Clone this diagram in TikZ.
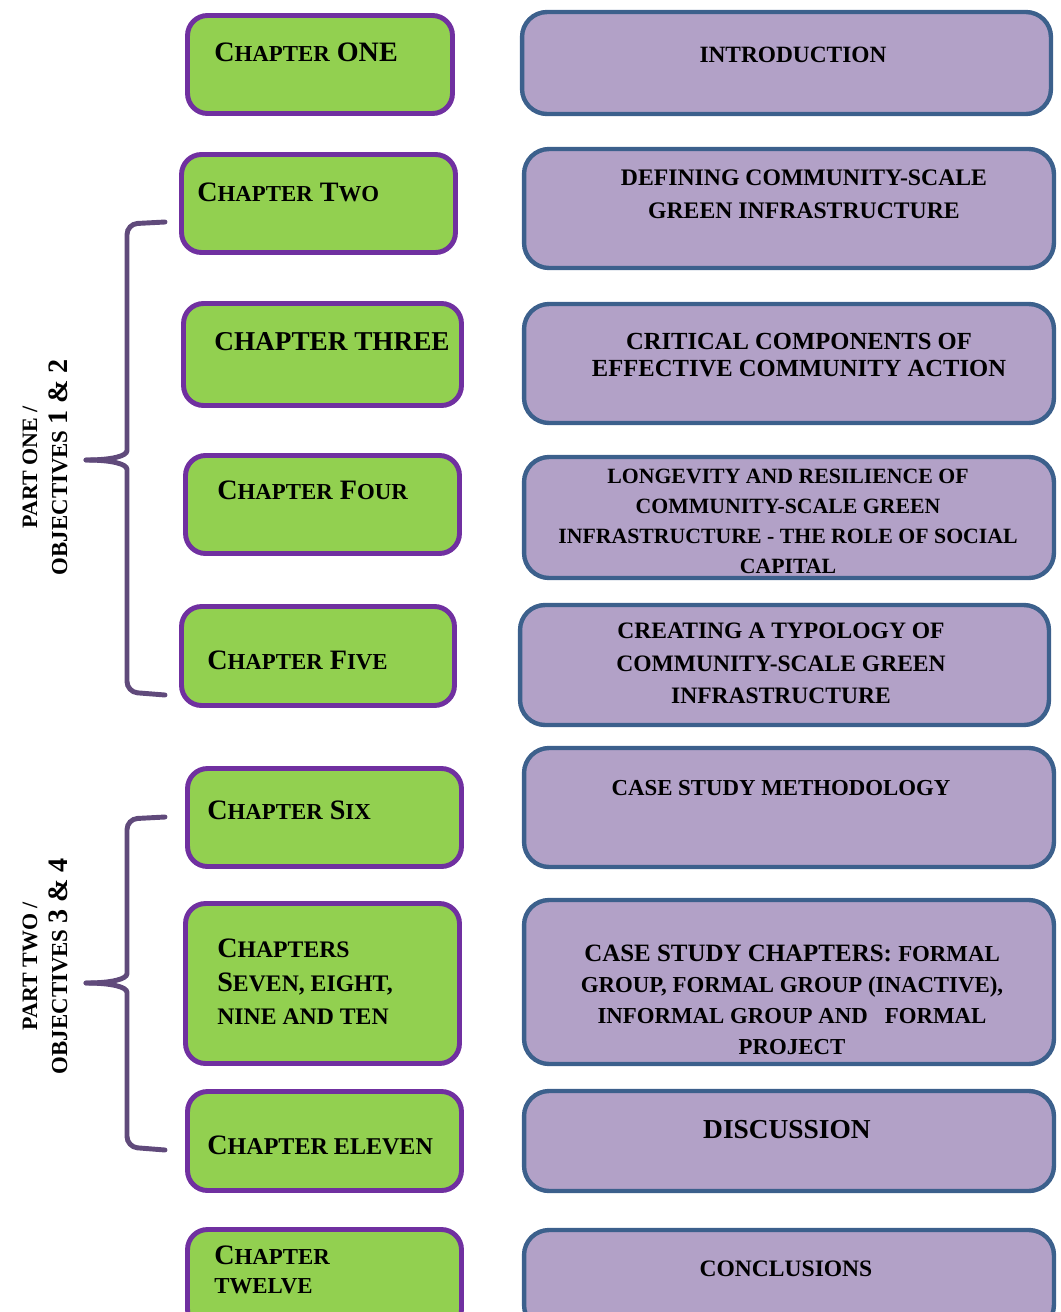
\documentclass[tikz,border=0pt]{standalone}
\usepackage{fontspec}
\setmainfont{Liberation Serif}
\usepackage{tikz}
\usepackage{xcolor}
\usetikzlibrary{positioning}
\newcommand{\smcaps}[2][13]{{\fontsize{#1}{15}\selectfont #2}}
\definecolor{chapgreen}{RGB}{146,208,80}
\definecolor{chapedge}{RGB}{112,48,160}
\definecolor{topicfill}{RGB}{178,161,199}
\definecolor{topicedge}{RGB}{60,96,140}
\definecolor{bracecol}{RGB}{96,74,123}

\begin{document}
\begin{tikzpicture}[
  x=0.02cm, y=-0.02cm,
  chapbox/.style={draw=chapedge, fill=chapgreen, line width=2.8pt, rounded corners=0.4cm, minimum width=5.48cm, minimum height=1.96cm},
  topicbox/.style={draw=topicedge, fill=topicfill, line width=2.5pt, rounded corners=0.5cm, minimum width=10.6cm, minimum height=2.38cm},
  chaplbl/.style={anchor=west, inner sep=0pt, align=left, font=\fontsize{16}{19}\selectfont\bfseries},
  topiclbl/.style 2 args={inner sep=0pt, align=center, font=\fontsize{#1}{#2}\selectfont\bfseries},
  partlbl/.style={rotate=90, inner sep=0pt, align=center, font=\fontsize{12.5}{17}\selectfont\bfseries},
  brace/.style={draw=bracecol, line width=2.8pt, line cap=round, rounded corners=6pt}
]
\useasboundingbox (0,0) rectangle (1061,1312);

% chapter column
\node[chapbox, minimum width=5.3cm] (ch1) at (320,64.5) {};
\node[chapbox] (ch2) at (318.5,203.5) {};
\node[chapbox, minimum width=5.56cm, minimum height=2.04cm] (ch3) at (322.5,354.5) {};
\node[chapbox] (ch4) at (322.5,504.5) {};
\node[chapbox, minimum width=5.46cm, minimum height=1.98cm] (ch5) at (318,656) {};
\node[chapbox] (ch6) at (324.5,817.5) {};
\node[chapbox, minimum height=3.2cm] (ch7) at (322.5,983.5) {};
\node[chapbox, minimum height=1.98cm] (ch11) at (324.5,1141) {};
\node[chapbox, minimum height=2cm] (ch12) at (324.5,1279.5) {};

\node[chaplbl] (ch1t) at (214,52) {C\smcaps{HAPTER} ONE};
\node[chaplbl] (ch2t) at (197,192) {C\smcaps{HAPTER} T\smcaps{WO}};
\node[chaplbl, font=\fontsize{15.5}{19}\selectfont\bfseries] (ch3t) at (214,342) {CHAPTER THREE};
\node[chaplbl] (ch4t) at (217,490) {C\smcaps{HAPTER} F\smcaps{OUR}};
\node[chaplbl] (ch5t) at (207,660) {C\smcaps{HAPTER} F\smcaps{IVE}};
\node[chaplbl] (ch6t) at (207,810) {C\smcaps{HAPTER} S\smcaps{IX}};
\node[chaplbl] (ch7t) at (217,982) {C\smcaps[13.5]{HAPTERS}\\S\smcaps[13.5]{EVEN, EIGHT,}\\\smcaps[13.5]{NINE AND TEN}};
\node[chaplbl] (ch11t) at (207,1145) {C\smcaps[13.7]{HAPTER ELEVEN}};
\node[chaplbl, font=\fontsize{16}{16.5}\selectfont\bfseries] (ch12t) at (214,1270) {C\smcaps{HAPTER}\\\smcaps{TWELVE}};

% topic column
\node[topicbox, minimum width=10.58cm, minimum height=2.04cm] (tp1) at (786.5,63) {};
\node[topicbox] (tp2) at (789,208.5) {};
\node[topicbox] (tp3) at (789,363.5) {};
\node[topicbox, minimum height=2.42cm] (tp4) at (789,517.5) {};
\node[topicbox, minimum width=10.58cm, minimum height=2.4cm] (tp5) at (784.5,665) {};
\node[topicbox] (tp6) at (789,807.5) {};
\node[topicbox, minimum height=3.28cm] (tp7) at (789,982) {};
\node[topicbox, minimum height=2cm] (tp8) at (789,1141) {};
\node[topicbox, minimum height=2cm] (tp9) at (789,1280) {};

\node[topiclbl={13.3}{16}] (tp1t) at (793,55) {INTRODUCTION};
\node[topiclbl={13.5}{18.8}] (tp2t) at (804,194.5) {DEFINING COMMUNITY-SCALE\\GREEN INFRASTRUCTURE};
\node[topiclbl={14}{15.4}] (tp3t) at (799,355.5) {CRITICAL COMPONENTS OF\\EFFECTIVE COMMUNITY ACTION};
\node[topiclbl={12.4}{17.1}] (tp4t) at (788,521.5) {LONGEVITY AND RESILIENCE OF\\COMMUNITY-SCALE GREEN\\INFRASTRUCTURE - THE ROLE OF SOCIAL\\CAPITAL};
\node[topiclbl={13.4}{18.5}] (tp5t) at (781,663.5) {CREATING A TYPOLOGY OF\\COMMUNITY-SCALE GREEN\\INFRASTRUCTURE};
\node[topiclbl={13}{16}] (tp6t) at (781,788) {CASE STUDY METHODOLOGY};
\node[topiclbl={14.2}{17.6}] (tp7t) at (792,999.5) {CASE STUDY CHAPTERS: \smcaps{FORMAL}\\\smcaps{GROUP, FORMAL GROUP (INACTIVE),}\\\smcaps{INFORMAL GROUP AND\ \ \ FORMAL}\\\smcaps{PROJECT}};
\node[topiclbl={15.6}{18}] (tp8t) at (787,1130) {DISCUSSION};
\node[topiclbl={13.4}{16}] (tp9t) at (786,1269) {CONCLUSIONS};

% braces for the two parts
\coordinate (p1top) at (165,222);
\coordinate (p1tip) at (86,460);
\coordinate (p1bot) at (165,695);
\draw[brace] (p1top) -- (127,224) -- (127,440) .. controls (127,456) and (112,460) .. (p1tip);
\draw[brace] (p1tip) .. controls (112,460) and (127,464) .. (127,480) -- (127,692) -- (p1bot);
\coordinate (p2top) at (165,817);
\coordinate (p2tip) at (86,983);
\coordinate (p2bot) at (165,1150);
\draw[brace] (p2top) -- (127,819) -- (127,963) .. controls (127,979) and (112,983) .. (p2tip);
\draw[brace] (p2tip) .. controls (112,983) and (127,987) .. (127,1003) -- (127,1147) -- (p2bot);

\node[partlbl] (part1) at (45,467) {PART ONE /\\\fontsize{13}{17}\selectfont OBJECTIVES {\fontsize{16}{17}\selectfont 1 \& 2}};
\node[partlbl] (part2) at (45,966) {PART TWO /\\\fontsize{13}{17}\selectfont OBJECTIVES {\fontsize{16}{17}\selectfont 3 \& 4}};
\end{tikzpicture}
\end{document}
